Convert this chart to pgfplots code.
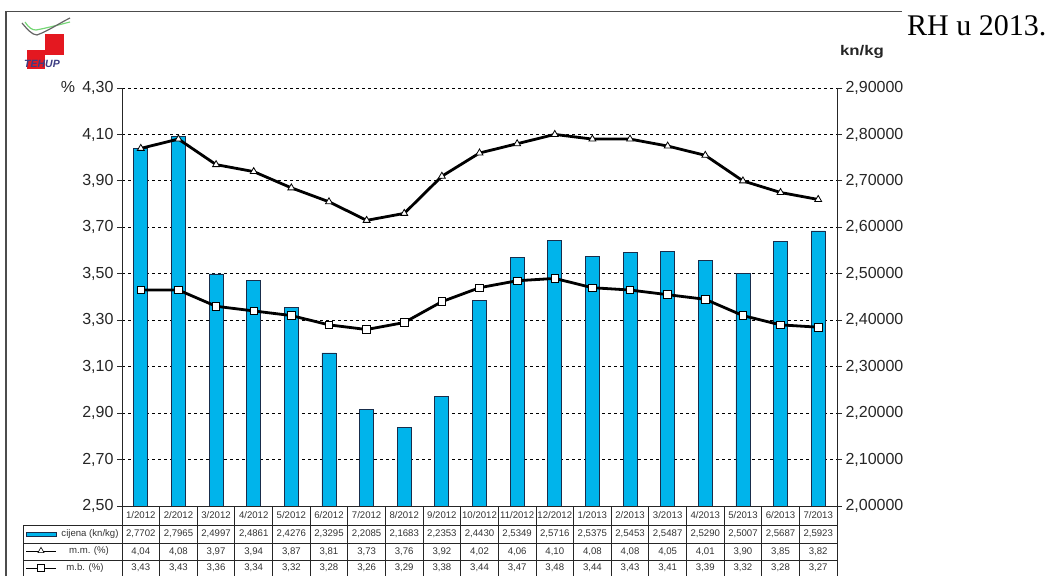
\documentclass[border=0pt]{standalone}
\usepackage{pgfplots}
\pgfplotsset{compat=1.18}
\usepackage{pgfplotstable}
\usetikzlibrary{shapes.geometric}
\usepackage{fontspec}
\setmainfont{Liberation Sans}
\newfontfamily\seriffont{Liberation Serif}

\definecolor{barcyan}{RGB}{0,180,235}
\definecolor{baredge}{RGB}{25,45,75}
\definecolor{logored}{RGB}{228,24,32}
\definecolor{logoblue}{RGB}{60,60,130}

% x = month index, price = cijena (kn/kg), mm = m.m. (%), mb = m.b. (%)
\pgfplotstableread{
x price mm mb
0 2.7702 4.04 3.43
1 2.7965 4.08 3.43
2 2.4997 3.97 3.36
3 2.4861 3.94 3.34
4 2.4276 3.87 3.32
5 2.3295 3.81 3.28
6 2.2085 3.73 3.26
7 2.1683 3.76 3.29
8 2.2353 3.92 3.38
9 2.4430 4.02 3.44
10 2.5349 4.06 3.47
11 2.5716 4.10 3.48
12 2.5375 4.08 3.44
13 2.5453 4.08 3.43
14 2.5487 4.05 3.41
15 2.5290 4.01 3.39
16 2.5007 3.90 3.32
17 2.5687 3.85 3.28
18 2.5923 3.82 3.27
}\datatable

\pgfplotsset{
  common/.style={
    at={(122pt,70pt)}, anchor=south west,
    width=715pt, height=418pt, scale only axis,
    xmin=-0.5, xmax=18.5,
    xtick=\empty,
    tick align=outside,
    major tick length=5pt,
    axis line style={-, line width=1pt, black!85},
    every tick/.style={black!85, line width=0.8pt},
    /pgf/number format/assume math mode=true,
    yticklabel style={font=\fontsize{16}{19}\selectfont, text=black!85},
  }
}
\newcommand{\tabfont}{\fontsize{9.6}{11}\selectfont}

\begin{document}
\begin{tikzpicture}[x=1pt,y=1pt]
\useasboundingbox (0,0) rectangle (1056,576);

% frame
\draw[black!70, line width=1.3pt] (6,0) -- (6,564.5) -- (902,564.5);

% logo
\draw[green!55!gray!70, line width=1.2pt] (25,554) .. controls (29,548) and (32,546) .. (36,546) .. controls (47,548) and (58,551) .. (70,554);
\draw[gray!80!black, line width=1.2pt] (22,553) .. controls (27,547) and (32,541) .. (37,541) .. controls (48,545) and (58,552) .. (70,558);
\fill[logored] (45,521) rectangle (64,542);
\fill[logored] (27,507) rectangle (45,526);
\node[font=\fontsize{10.5}{11}\selectfont\bfseries\itshape, text=logoblue] at (42,512) {TEHUP};

% title fragment
\node[anchor=base west, font=\seriffont\fontsize{30}{34}\selectfont, inner sep=0pt] at (907,540) {RH u 2013.};

% bars: price on the right axis
\begin{axis}[common,
  ymin=2, ymax=2.9,
  axis x line=none, axis y line*=right,
  ytick={2,2.1,2.2,2.3,2.4,2.5,2.6,2.7,2.8,2.9},
  yticklabel style={/pgf/number format/.cd, fixed, fixed zerofill, precision=5, use comma},
  ymajorgrids=true,
  grid style={dashed, black, line width=0.9pt},
  ybar, bar width=14pt,
]
\addplot[ybar, fill=barcyan, draw=baredge, line width=0.8pt] table[x=x, y=price] {\datatable};
\end{axis}

% lines: percentages on the left axis
\begin{axis}[common,
  ymin=2.5, ymax=4.3,
  axis x line*=bottom, axis y line*=left,
  ytick={2.5,2.7,2.9,3.1,3.3,3.5,3.7,3.9,4.1,4.3},
  yticklabel style={/pgf/number format/.cd, fixed, fixed zerofill, precision=2, use comma},
]
\addplot[black, line width=2.8pt, mark=triangle*, mark size=4pt,
  mark options={fill=white, draw=black, line width=0.8pt, solid}] table[x=x, y=mm] {\datatable};
\addplot[black, line width=2.8pt, mark=square*, mark size=3.8pt,
  mark options={fill=white, draw=black, line width=0.8pt, solid}] table[x=x, y=mb] {\datatable};
\end{axis}

% axis captions
\node[font=\fontsize{16}{19}\selectfont, text=black!85] at (68,489) {\%};
\node[font=\fontsize{14}{16}\selectfont\bfseries, text=black!85, xscale=1.2] at (862,524) {kn/kg};

% data table under the chart
\def\cw{37.6316}
\begin{scope}[black!85, line width=0.8pt]
  \draw (122,51) -- (837,51);
  \draw (23,51) -- (122,51);
  \draw (23,33) -- (837,33);
  \draw (23,16) -- (837,16);
  \draw (23,51) -- (23,0);
  \foreach \k in {0,...,19} \draw (122+\k*\cw,70) -- (122+\k*\cw,0);
\end{scope}

% row headers with legend keys
\filldraw[fill=barcyan, draw=baredge, line width=0.7pt] (26,39.5) rectangle (56,44);
\node[font=\tabfont, text=black!80] at (90,42) {cijena (kn/kg)};
\draw[black, line width=1pt] (26,24.5) -- (56,24.5);
\node[draw=black, fill=white, line width=0.6pt, regular polygon, regular polygon sides=3, inner sep=0pt, minimum size=7pt] at (41,25.2) {};
\node[font=\tabfont, text=black!80] at (89,24.5) {m.m. (\%)};
\draw[black, line width=1pt] (26,8) -- (56,8);
\node[draw=black, fill=white, line width=0.6pt, inner sep=0pt, minimum size=7pt] at (41,8) {};
\node[font=\tabfont, text=black!80] at (85,8) {m.b. (\%)};

% cell values
\foreach \i in {0,...,18} {
  \pgfmathtruncatemacro{\mon}{mod(\i,12)+1}
  \pgfmathtruncatemacro{\yr}{2012+(\i>11)}
  \pgfmathsetmacro{\cx}{122+(\i+0.5)*\cw}
  \node[font=\tabfont, text=black!80] at (\cx,60.5) {\mon/\yr};
  \pgfplotstablegetelem{\i}{price}\of\datatable
  \node[font=\tabfont, text=black!80] at (\cx,42) {\pgfmathprintnumber[fixed, fixed zerofill, precision=4, use comma, assume math mode=true]{\pgfplotsretval}};
  \pgfplotstablegetelem{\i}{mm}\of\datatable
  \node[font=\tabfont, text=black!80] at (\cx,24.5) {\pgfmathprintnumber[fixed, fixed zerofill, precision=2, use comma, assume math mode=true]{\pgfplotsretval}};
  \pgfplotstablegetelem{\i}{mb}\of\datatable
  \node[font=\tabfont, text=black!80] at (\cx,8) {\pgfmathprintnumber[fixed, fixed zerofill, precision=2, use comma, assume math mode=true]{\pgfplotsretval}};
}
\end{tikzpicture}
\end{document}
